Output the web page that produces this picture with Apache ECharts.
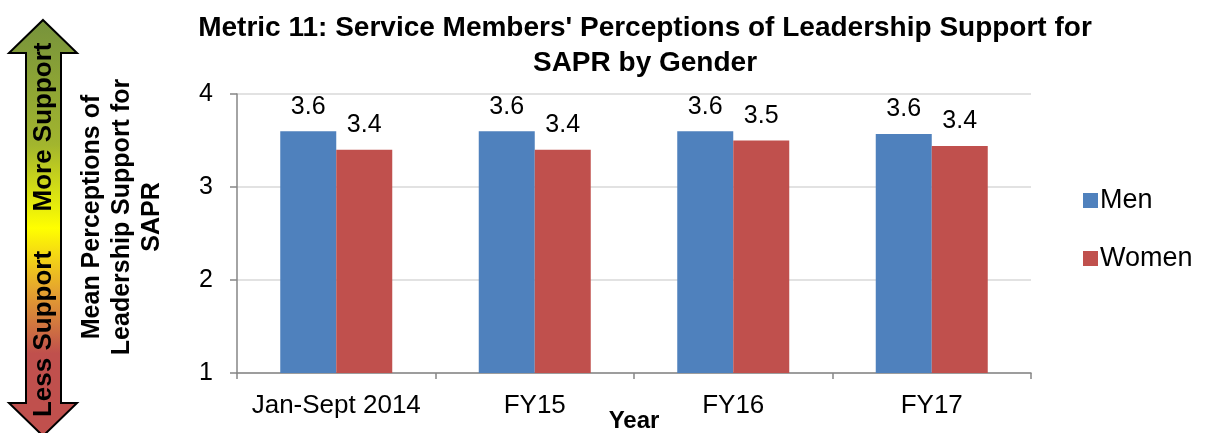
<!DOCTYPE html>
<html><head><meta charset="utf-8">
<script src="https://cdn.jsdelivr.net/npm/echarts@6/dist/echarts.min.js"></script>
<style>html,body{margin:0;padding:0;background:#fff}#c{width:1208px;height:433px}</style>
</head><body><div id="c"></div>
<script>
const categories = ['Jan-Sept 2014', 'FY15', 'FY16', 'FY17'];
const men = [3.60, 3.60, 3.60, 3.57];
const women = [3.40, 3.40, 3.50, 3.44];
const yTicks = [1, 2, 3, 4];

const chart = echarts.init(document.getElementById('c'));
const F = 'Liberation Sans, Arial, sans-serif';
const lbl = {show: true, position: 'top', distance: 12, color: '#000', fontFamily: F, fontSize: 25,
  formatter: p => p.value.toFixed(1)};
chart.setOption({
  animation: false,
  title: {
    text: "Metric 11: Service Members' Perceptions of Leadership Support for\nSAPR by Gender",
    left: 640, top: 6, textAlign: 'center',
    textStyle: {fontFamily: F, fontWeight: 'bold', fontSize: 28, lineHeight: 35, color: '#000'}
  },
  legend: {
    orient: 'vertical', left: 1078, top: 182, itemGap: 31, itemWidth: 15, itemHeight: 15,
    icon: 'rect',
    textStyle: {fontFamily: F, fontSize: 27, color: '#000', padding: [0, 0, 0, -3]},
    data: ['Men', 'Women']
  },
  grid: {left: 237, right: 177, top: 94, bottom: 60, containLabel: false, outerBoundsMode: 'none'},
  xAxis: {
    type: 'category', data: categories,
    name: 'Year', nameLocation: 'middle', nameGap: 36, nameMoveOverlap: false,
    nameTextStyle: {fontFamily: F, fontWeight: 'bold', fontSize: 24, color: '#000'},
    axisLine: {lineStyle: {color: '#868686', width: 1.5}},
    axisTick: {show: true, length: 6, lineStyle: {color: '#868686', width: 1.5}},
    axisLabel: {interval: 0, fontFamily: F, fontSize: 26, color: '#000', margin: 20}
  },
  yAxis: {
    type: 'value', min: yTicks[0], max: yTicks[yTicks.length - 1], interval: 1,
    axisLine: {show: true, lineStyle: {color: '#868686', width: 1.5}},
    axisTick: {show: true, length: 7, lineStyle: {color: '#868686', width: 1.5}},
    axisLabel: {fontFamily: F, fontSize: 25, color: '#000', margin: 24},
    splitLine: {lineStyle: {color: '#D9D9D9', width: 1.5}}
  },
  series: [
    {name: 'Men', type: 'bar', data: men, barWidth: 56, barGap: '0%',
     itemStyle: {color: '#4F81BD'}, label: lbl},
    {name: 'Women', type: 'bar', data: women, barWidth: 56,
     itemStyle: {color: '#C0504D'}, label: lbl}
  ],
  graphic: [
    {type: 'polygon', shape: {points: [[43,20],[77,53],[61,53],[61,403],[77,403],[43,436],[9,403],[26,403],[26,53],[9,53]]},
     style: {fill: new echarts.graphic.LinearGradient(0, 0, 0, 1, [
       {offset: 0, color: '#76923C'}, {offset: 0.3, color: '#A2B52E'},
       {offset: 0.5, color: '#FFFF00'}, {offset: 0.65, color: '#E5A32F'},
       {offset: 0.8, color: '#C0504D'}, {offset: 1, color: '#C0504D'}]),
       stroke: '#000', lineWidth: 2}},
    {type: 'text', x: 44, y: 127, rotation: Math.PI / 2,
     style: {text: 'More Support', fontFamily: F, fontWeight: 'bold', fontSize: 26, fill: '#000',
       textAlign: 'center', textVerticalAlign: 'middle'}},
    {type: 'text', x: 44, y: 334, rotation: Math.PI / 2,
     style: {text: 'Less Support', fontFamily: F, fontWeight: 'bold', fontSize: 26, fill: '#000',
       textAlign: 'center', textVerticalAlign: 'middle'}},
    {type: 'text', x: 122, y: 217, rotation: Math.PI / 2,
     style: {text: 'Mean Perceptions of\nLeadership Support for\nSAPR', fontFamily: F, fontWeight: 'bold',
       fontSize: 25, lineHeight: 30, fill: '#000', textAlign: 'center', textVerticalAlign: 'middle'}}
  ]
});
</script></body></html>
